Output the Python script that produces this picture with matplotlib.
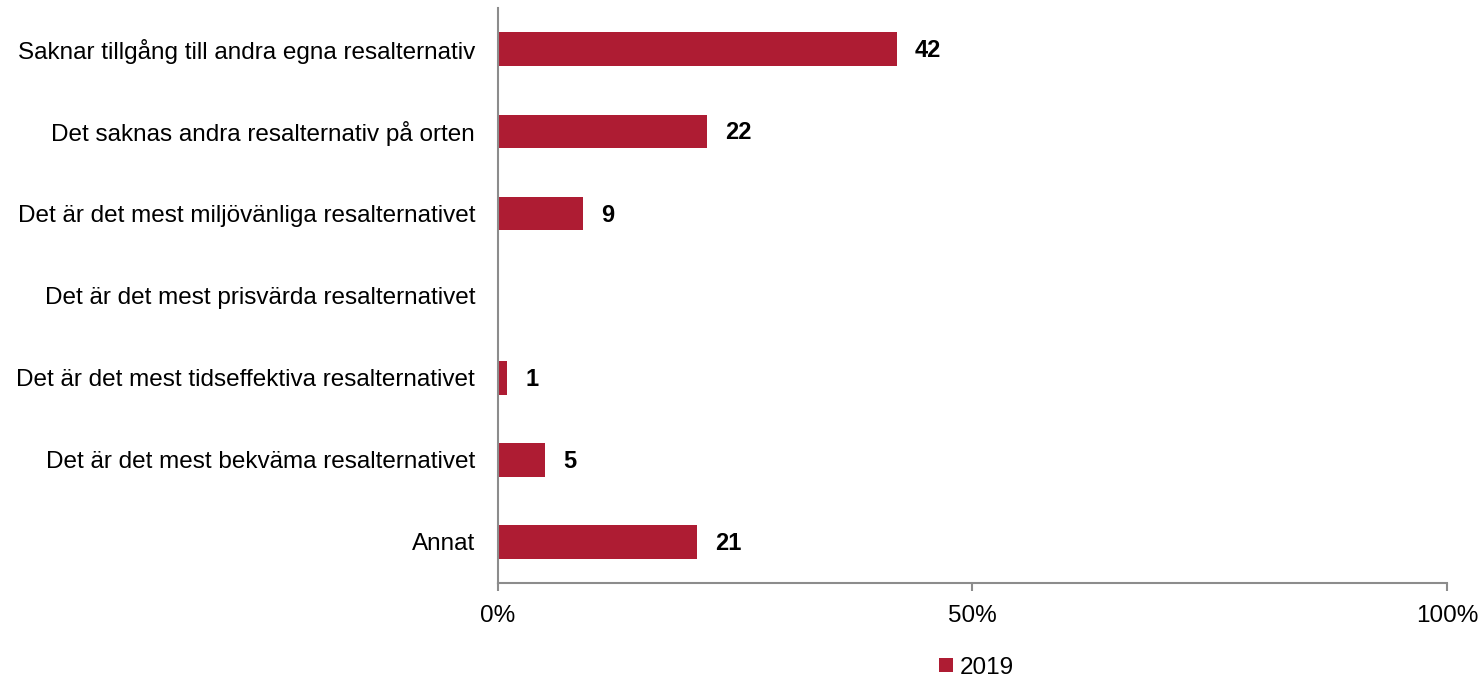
import matplotlib.pyplot as plt
from matplotlib.ticker import PercentFormatter

plt.rcParams['font.family'] = ['Liberation Sans', 'DejaVu Sans']

categories = [
    'Saknar tillgång till andra egna resalternativ',
    'Det saknas andra resalternativ på orten',
    'Det är det mest miljövänliga resalternativet',
    'Det är det mest prisvärda resalternativet',
    'Det är det mest tidseffektiva resalternativet',
    'Det är det mest bekväma resalternativet',
    'Annat',
]
values_2019 = [42, 22, 9, 0, 1, 5, 21]
series_name = '2019'

bar_color = '#AE1C33'
axis_color = '#8C8C8C'
fs = 17.5

fig = plt.figure(figsize=(14.82, 6.8), dpi=100)
ax = fig.add_axes([0.336, 0.1426, 0.6404, 0.8454])

pos = list(range(len(categories)))
ax.barh(pos, values_2019, height=0.41, color=bar_color, label=series_name)

for y, v in zip(pos, values_2019):
    if v > 0:
        ax.text(v + 1.9, y + 0.02, str(v), va='center', ha='left',
                fontsize=17, fontweight='bold', color='black')

ax.set_xlim(0, 100)
ax.set_ylim(len(categories) - 0.5, -0.5)
ax.set_yticks(pos)
ax.set_yticklabels(categories, fontsize=fs)
ax.set_xticks([0, 50, 100])
ax.xaxis.set_major_formatter(PercentFormatter(decimals=0))
ax.tick_params(axis='x', direction='out', length=6, width=1.5, color=axis_color,
               labelsize=fs, pad=10)
ax.tick_params(axis='y', length=0, pad=16.5)

for side in ['top', 'right']:
    ax.spines[side].set_visible(False)
for side in ['left', 'bottom']:
    ax.spines[side].set_color(axis_color)
    ax.spines[side].set_linewidth(1.5)

fig.legend(loc='center', bbox_to_anchor=(0.659, 0.018), frameon=False,
           fontsize=fs, handlelength=0.55, handleheight=0.55, handletextpad=0.3)

fig.savefig('out.png', dpi=100)
